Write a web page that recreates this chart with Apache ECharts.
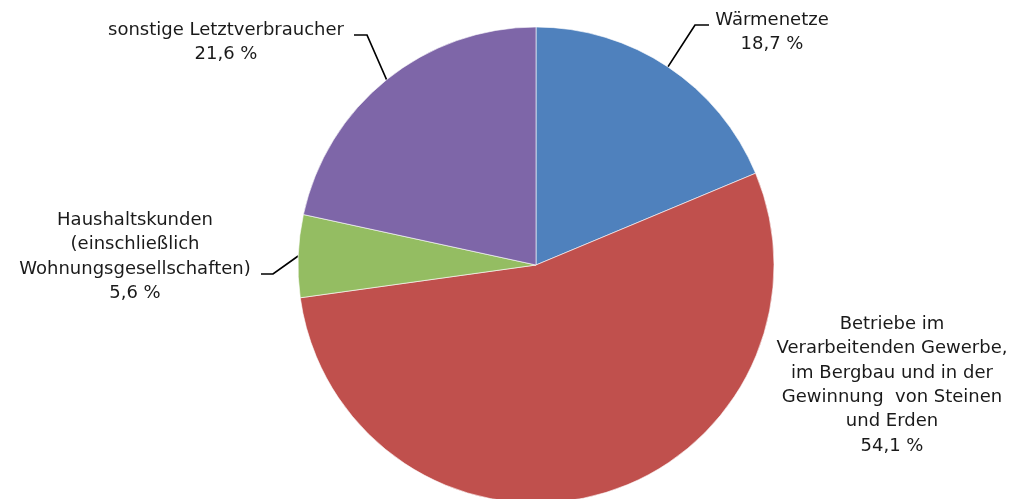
<!DOCTYPE html>
<html>
<head>
<meta charset="utf-8">
<script src="https://cdn.jsdelivr.net/npm/echarts@6/dist/echarts.min.js"></script>
<style>
html,body{margin:0;padding:0;background:#fff;}
#c{width:1018px;height:499px;}
</style>
</head>
<body>
<div id="c"></div>
<script>
const categories = [
  'Wärmenetze',
  'Betriebe im\nVerarbeitenden Gewerbe,\nim Bergbau und in der\nGewinnung  von Steinen\nund Erden',
  'Haushaltskunden\n(einschließlich\nWohnungsgesellschaften)',
  'sonstige Letztverbraucher'
];
const shares = [18.7, 54.1, 5.6, 21.6];
const colors = ['#4F81BD', '#C0504D', '#94BD62', '#7E66A8'];

// label placement (styling)
const CX = 536, CY = 265, R = 238;
const labelPos = [
  { x: 772, y: 8, elbow: [[695, 25], [709, 25]] },
  { x: 892, y: 312, elbow: null },
  { x: 135, y: 208, elbow: [[273, 274], [261, 274]] },
  { x: 226, y: 18, elbow: [[367, 35], [354, 35]] }
];

const total = shares.reduce((a, b) => a + b, 0);
function edgePoint(i) {
  let before = 0;
  for (let k = 0; k < i; k++) before += shares[k];
  const mid = before + shares[i] / 2;
  const ang = (90 - mid / total * 360) * Math.PI / 180;
  return [CX + R * Math.cos(ang), CY - R * Math.sin(ang)];
}

const chart = echarts.init(document.getElementById('c'), null, { renderer: 'canvas' });
chart.setOption({
  animation: false,
  backgroundColor: '#fff',
  series: [{
    type: 'pie',
    center: [CX, CY],
    radius: R,
    startAngle: 90,
    clockwise: true,
    avoidLabelOverlap: false,
    itemStyle: { borderColor: '#ffffff', borderWidth: 0.6 },
    label: {
      show: true,
      position: 'outside',
      fontFamily: 'DejaVu Sans',
      fontSize: 18,
      lineHeight: 24.4,
      color: '#1a1a1a',
      align: 'center',
      formatter: p => p.name + '\n' + p.value.toFixed(1).replace('.', ',') + ' %'
    },
    labelLine: { show: true, lineStyle: { color: '#000000', width: 1.7 } },
    labelLayout: function (params) {
      const i = params.dataIndex;
      const lp = labelPos[i];
      const res = { x: lp.x, y: lp.y, align: 'center', verticalAlign: 'top' };
      if (lp.elbow) {
        res.labelLinePoints = [edgePoint(i), lp.elbow[0], lp.elbow[1]];
      }
      return res;
    },
    data: categories.map((n, i) => ({
      name: n,
      value: shares[i],
      itemStyle: { color: colors[i] },
      labelLine: { show: i !== 1 }
    }))
  }]
});
</script>
</body>
</html>
